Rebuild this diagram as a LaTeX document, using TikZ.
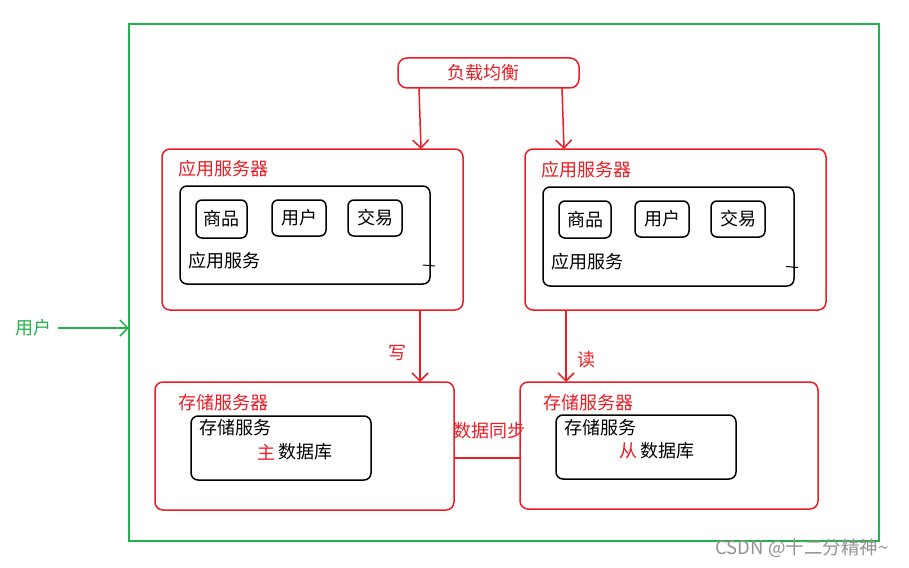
\documentclass[tikz,border=0pt]{standalone}
\usepackage{fontspec}
\setmainfont{Noto Sans CJK SC}
\usetikzlibrary{arrows.meta,calc}
\definecolor{pred}{RGB}{237,28,36}
\definecolor{pgreen}{RGB}{34,177,76}
\begin{document}
\begin{tikzpicture}[x=1pt,y=-1pt,
  redbox/.style={draw=pred, line width=1.5pt, rounded corners=8pt, inner sep=0pt, outer sep=0pt},
  blackbox/.style={draw=black, line width=1.5pt, rounded corners=7pt, inner sep=0pt, outer sep=0pt},
  itembox/.style={blackbox, rounded corners=6pt, minimum width=52pt, minimum height=37pt, font=\fontsize{18}{21}\selectfont},
  lbl/.style={inner sep=0pt, font=\fontsize{18}{21}\selectfont},
  redlbl/.style={lbl, text=pred},
  redline/.style={draw=pred, line width=1.5pt},
  arr/.style={redline, -{Straight Barb[length=8pt,width=16pt,line width=1.5pt]}},
  garr/.style={draw=pgreen, line width=1.5pt, -{Straight Barb[length=8pt,width=16pt,line width=1.5pt]}},
  tick/.style={draw=black, line width=1pt}
]
\useasboundingbox (0,0) rectangle (909,567);
\fill[white] (0,0) rectangle (909,567);

% outer green frame
\node[draw=pgreen, line width=1.5pt, inner sep=0pt, outer sep=0pt, minimum width=750pt, minimum height=517pt] (frame) at (504,282.5) {};

% user
\node[lbl, text=pgreen] (user) at (34,328) {用户};
\draw[garr] ([xshift=6pt]user.east) -- (frame.west |- user);

% load balancer
\node[redbox, rounded corners=9pt, minimum width=181pt, minimum height=30pt] (lb) at (488.5,73) {};
\node[redlbl] (lbt) at (483,73) {负载均衡};

% application servers
\node[redbox, minimum width=301pt, minimum height=161pt] (app1) at (312.5,229.5) {};
\node[redbox, minimum width=301pt, minimum height=161pt] (app2) at (675.5,229.5) {};
\node[redlbl, anchor=west] (app1t) at (178,169) {应用服务器};
\node[redlbl, anchor=west] (app2t) at (541,170) {应用服务器};

\node[blackbox, minimum width=250pt, minimum height=98pt] (svc1) at (305,235) {};
\node[blackbox, minimum width=251pt, minimum height=99pt] (svc2) at (668.5,236.5) {};

\node[itembox, minimum width=51pt, minimum height=38pt] (sp1) at (221.5,219) {商品};
\node[itembox, minimum width=54pt, minimum height=36pt] (yh1) at (299,218) {用户};
\node[itembox, minimum width=54pt, minimum height=36pt] (jy1) at (375,218) {交易};
\node[itembox, minimum width=52pt, minimum height=37pt] (sp2) at (585,219.5) {商品};
\node[itembox, minimum width=54pt, minimum height=36pt] (yh2) at (662,219) {用户};
\node[itembox, minimum width=54pt, minimum height=36pt] (jy2) at (738,219) {交易};

\node[lbl, anchor=west] (svc1t) at (188,261) {应用服务};
\node[lbl, anchor=west] (svc2t) at (551,262) {应用服务};

\draw[tick] ([xshift=-7pt,yshift=-30pt]svc1.east) -- ([xshift=5pt,yshift=-31pt]svc1.east);
\draw[tick] ([xshift=-8pt,yshift=-30pt]svc2.east) -- ([xshift=4pt,yshift=-31pt]svc2.east);

% storage servers
\node[redbox, minimum width=299pt, minimum height=128pt] (st1) at (304.5,446) {};
\node[redbox, minimum width=298pt, minimum height=127pt] (st2) at (669,445.5) {};
\node[redlbl, anchor=west] (st1t) at (178,403) {存储服务器};
\node[redlbl, anchor=west] (st2t) at (543,403) {存储服务器};

\node[blackbox, minimum width=180pt, minimum height=64pt] (db1) at (281,448) {};
\node[blackbox, minimum width=180pt, minimum height=64pt] (db2) at (646,447) {};
\node[lbl, anchor=west] (db1t) at (199,428) {存储服务};
\node[lbl, anchor=west] (db2t) at (564,428) {存储服务};
\node[redlbl] (zhu) at (266,452) {主};
\node[lbl, anchor=west] (db1n) at (278,452) {数据库};
\node[redlbl] (cong) at (628,451) {从};
\node[lbl, anchor=west] (db2n) at (640,451) {数据库};

% connectors
\draw[arr] ([xshift=-69.5pt]lb.south) -- ([xshift=108.5pt]app1.north);
\draw[arr] ([xshift=73.5pt]lb.south) -- ([xshift=-111.5pt]app2.north);
\draw[arr] ([xshift=107.5pt]app1.south) -- ([xshift=115.5pt]st1.north);
\draw[arr] ([xshift=-109.5pt]app2.south) -- ([xshift=-103pt]st2.north);
\node[redlbl] (wr) at (397,353) {写};
\node[redlbl] (rd) at (586,360) {读};

\draw[redline] ([yshift=-12pt]st1.east) -- ([yshift=-12pt]st1.east -| st2.west);
\node[redlbl] (sync) at (489,431) {数据同步};

% watermark
\node[inner sep=0pt, text=gray!85, font=\fontsize{18.5}{21}\selectfont] (wm) at (802,548) {CSDN @十二分精神\textasciitilde};
\end{tikzpicture}
\end{document}
